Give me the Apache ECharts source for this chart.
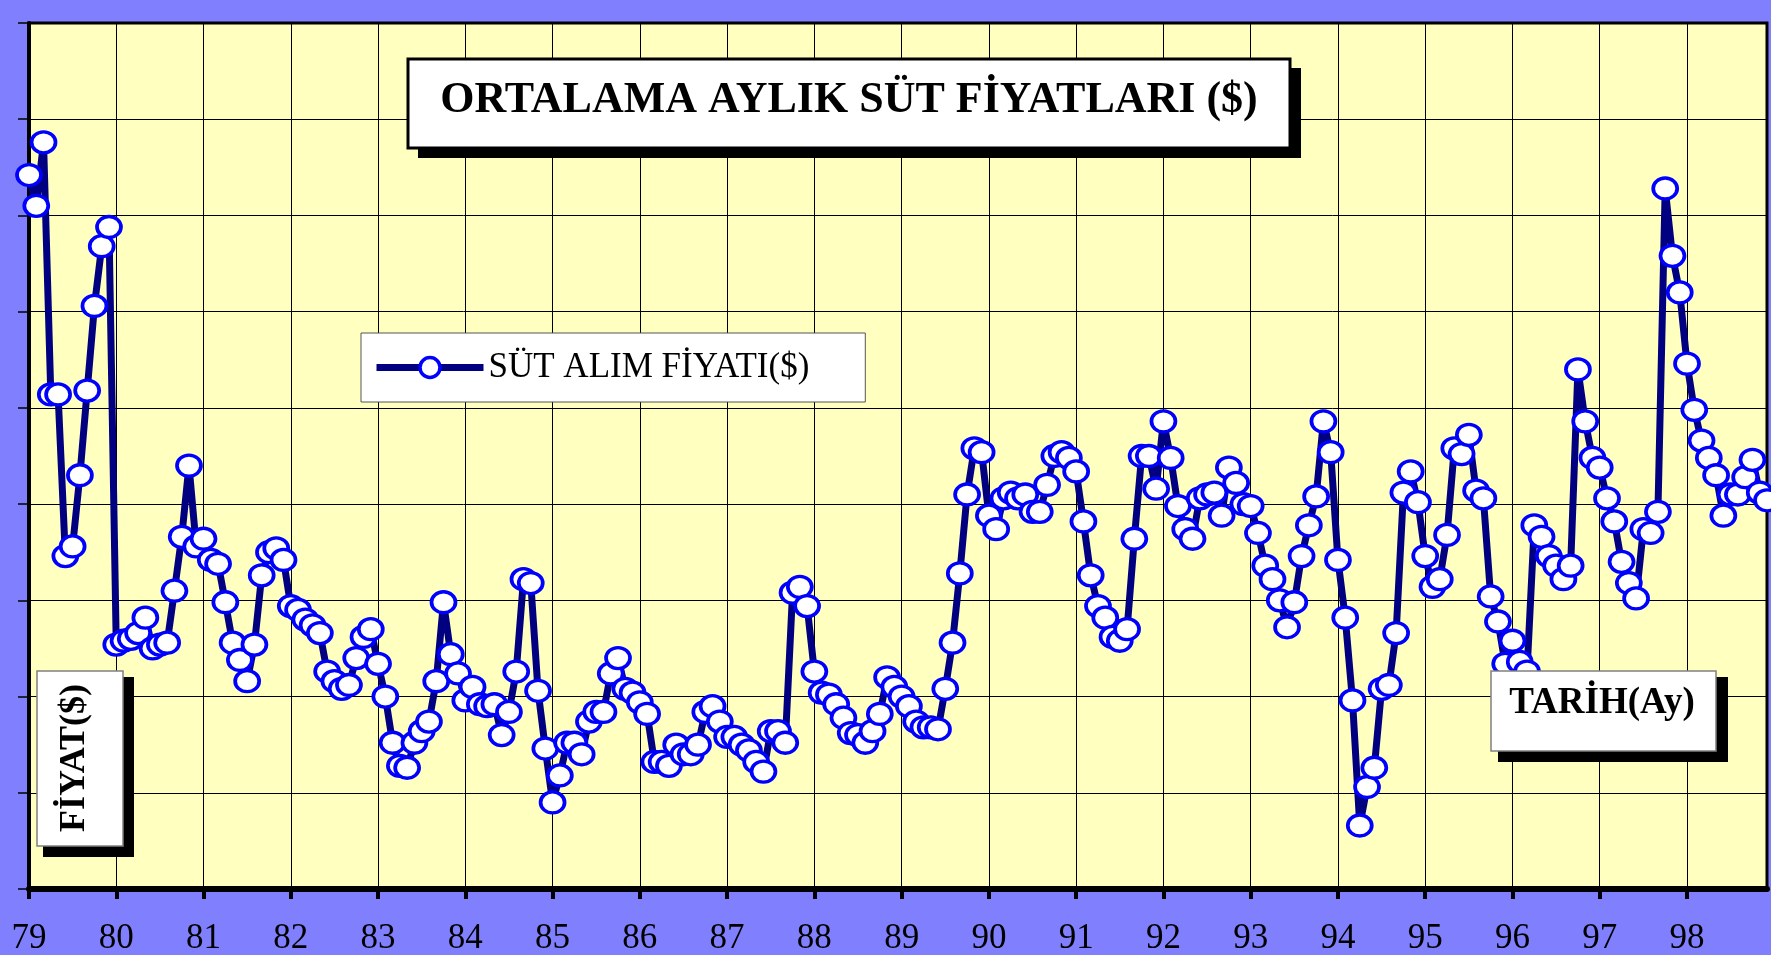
<!DOCTYPE html>
<html>
<head>
<meta charset="utf-8">
<title>Ortalama Aylık Süt Fiyatları</title>
<script src="https://cdn.jsdelivr.net/npm/echarts@6.0.0/dist/echarts.min.js"></script>
<style>
  html, body { margin: 0; padding: 0; background: #8080FF; }
  #main { width: 1771px; height: 955px; }
</style>
</head>
<body>
<div id="main"></div>
<script>
// yıllar (eksen etiketleri) ve aylar
var years = ['79', '80', '81', '82', '83', '84', '85', '86', '87', '88',
             '89', '90', '91', '92', '93', '94', '95', '96', '97', '98'];
var months = ['01', '02', '03', '04', '05', '06', '07', '08', '09', '10', '11', '12'];

// aylık süt alım fiyatı
var p1979 = [37.1, 35.5, 38.8, 25.7, 25.7, 17.3, 17.8, 21.5, 25.9, 30.3, 33.4, 34.4];
var p1980 = [12.7, 12.9, 13.0, 13.3, 14.1, 12.5, 12.7, 12.8, 15.5, 18.3, 22.0, 17.8];
var p1981 = [18.2, 17.1, 16.9, 14.9, 12.8, 11.9, 10.8, 12.7, 16.3, 17.5, 17.7, 17.1];
var p1982 = [14.7, 14.5, 14.0, 13.7, 13.3, 11.3, 10.8, 10.4, 10.6, 12.0, 13.1, 13.5];
var p1983 = [11.7, 10.0, 7.6, 6.4, 6.3, 7.6, 8.2, 8.7, 10.8, 14.9, 12.2, 11.2];
var p1984 = [9.8, 10.5, 9.6, 9.5, 9.6, 8.0, 9.2, 11.3, 16.1, 15.9, 10.3, 7.3];
var p1985 = [4.5, 5.9, 7.6, 7.6, 7.0, 8.7, 9.2, 9.2, 11.2, 12.0, 10.4, 10.2];
var p1986 = [9.7, 9.1, 6.6, 6.6, 6.4, 7.5, 7.0, 7.0, 7.5, 9.2, 9.5, 8.7];
var p1987 = [7.9, 7.9, 7.5, 7.2, 6.6, 6.1, 8.2, 8.2, 7.6, 15.4, 15.7, 14.7];
var p1988 = [11.3, 10.2, 10.1, 9.6, 8.9, 8.1, 8.0, 7.6, 8.2, 9.1, 11.0, 10.5];
var p1989 = [10.0, 9.5, 8.7, 8.4, 8.4, 8.3, 10.4, 12.8, 16.4, 20.5, 22.9, 22.7];
var p1990 = [19.4, 18.7, 20.3, 20.6, 20.3, 20.5, 19.6, 19.6, 21.0, 22.5, 22.7, 22.4];
var p1991 = [21.7, 19.1, 16.3, 14.7, 14.1, 13.1, 12.9, 13.5, 18.2, 22.5, 22.5, 20.8];
var p1992 = [24.3, 22.4, 19.9, 18.7, 18.2, 20.3, 20.5, 20.6, 19.4, 21.9, 21.1, 20.0];
var p1993 = [19.9, 18.5, 16.8, 16.1, 15.0, 13.6, 14.9, 17.3, 18.9, 20.4, 24.3, 22.7];
var p1994 = [17.1, 14.1, 9.8, 3.3, 5.3, 6.3, 10.4, 10.6, 13.3, 20.6, 21.7, 20.1];
var p1995 = [17.3, 15.7, 16.1, 18.4, 22.9, 22.6, 23.6, 20.7, 20.3, 15.2, 13.9, 11.7];
var p1996 = [12.9, 11.8, 11.3, 18.9, 18.3, 17.3, 16.8, 16.1, 16.8, 27.0, 24.3, 22.4];
var p1997 = [21.9, 20.3, 19.1, 17.0, 15.9, 15.1, 18.7, 18.5, 19.6, 36.4, 32.9, 31.0];
var p1998 = [27.3, 24.9, 23.3, 22.4, 21.5, 19.4, 20.5, 20.5, 21.4, 22.3, 20.6, 20.2];

var seriesName = 'SÜT ALIM FİYATI($)';

var categories = [];
years.forEach(function (y) {
    months.forEach(function (m) { categories.push(y + '/' + m); });
});
var prices = [].concat(p1979, p1980, p1981, p1982, p1983, p1984, p1985, p1986, p1987, p1988,
                       p1989, p1990, p1991, p1992, p1993, p1994, p1995, p1996, p1997, p1998);

var serif = '"Liberation Serif", "Times New Roman", serif';
var ellipse = 'path://M0,10A10,10,0,1,1,20,10A10,10,0,1,1,0,10Z';

var myChart = echarts.init(document.getElementById('main'), null, { renderer: 'canvas' });

var option = {
    animation: false,
    backgroundColor: '#8080FF',
    grid: {
        left: 29, right: 4, top: 23, bottom: 66,
        show: true,
        backgroundColor: '#FFFFC0',
        borderColor: '#000',
        borderWidth: 3,
        containLabel: false,
        outerBoundsMode: 'none'
    },
    legend: {
        data: [seriesName],
        left: 361, top: 333,
        orient: 'horizontal',
        padding: [17, 56, 17, 12],
        backgroundColor: '#FFFFFF',
        borderColor: '#555555',
        borderWidth: 1,
        borderRadius: 0,
        itemWidth: 107,
        itemHeight: 25,
        lineStyle: { color: '#000080', width: 7 },
        itemStyle: { color: '#FFFFFF', borderColor: '#0000FF', borderWidth: 3.5 },
        textStyle: { color: '#000', fontFamily: serif, fontSize: 35 }
    },
    xAxis: {
        type: 'category',
        data: categories,
        boundaryGap: false,
        axisLine: { show: true, lineStyle: { color: '#000', width: 6 } },
        axisTick: { show: true, interval: 11, length: 10, lineStyle: { color: '#000', width: 4 } },
        axisLabel: {
            interval: 11, margin: 32, color: '#000', fontFamily: serif, fontSize: 35,
            showMinLabel: true, hideOverlap: false,
            formatter: function (v) { return v.slice(0, 2); }
        },
        splitLine: { show: true, interval: 11, lineStyle: { color: '#000', width: 1 } }
    },
    yAxis: {
        type: 'value',
        min: 0, max: 45, interval: 5,
        axisLine: { show: true, lineStyle: { color: '#000', width: 4 } },
        axisTick: { show: true, length: 11, lineStyle: { color: '#000', width: 1.5 } },
        axisLabel: { show: false },
        splitLine: { show: true, lineStyle: { color: '#000', width: 1 } }
    },
    series: [{
        name: seriesName,
        type: 'line',
        data: prices,
        symbol: ellipse,
        symbolSize: [24, 21],
        showAllSymbol: true,
        lineStyle: { color: '#000080', width: 7 },
        itemStyle: { color: '#FFFFFF', borderColor: '#0000FF', borderWidth: 3.5 },
        emphasis: { disabled: true }
    }],
    graphic: [
        // başlık kutusu
        { type: 'rect', z: 100, shape: { x: 418, y: 68, width: 883, height: 90 }, style: { fill: '#000' } },
        { type: 'rect', z: 101, shape: { x: 408, y: 59, width: 882, height: 89 },
          style: { fill: '#FFFFFF', stroke: '#000', lineWidth: 3 } },
        { type: 'text', z: 102, x: 849, y: 101,
          style: { text: 'ORTALAMA AYLIK SÜT FİYATLARI ($)', font: 'bold 44px ' + serif, fill: '#000',
                   textAlign: 'center', textVerticalAlign: 'middle', align: 'center', verticalAlign: 'middle' } },
        // y ekseni başlığı
        { type: 'rect', z: 100, shape: { x: 43, y: 677, width: 91, height: 180 }, style: { fill: '#000' } },
        { type: 'rect', z: 101, shape: { x: 37, y: 671, width: 86, height: 175 },
          style: { fill: '#FFFFFF', stroke: '#808080', lineWidth: 1.5 } },
        { type: 'text', z: 102, x: 75, y: 758, rotation: Math.PI / 2,
          style: { text: 'FİYAT($)', font: 'bold 36px ' + serif, fill: '#000',
                   textAlign: 'center', textVerticalAlign: 'middle', align: 'center', verticalAlign: 'middle' } },
        // x ekseni başlığı
        { type: 'rect', z: 100, shape: { x: 1498, y: 677, width: 230, height: 85 }, style: { fill: '#000' } },
        { type: 'rect', z: 101, shape: { x: 1491, y: 671, width: 225, height: 80 },
          style: { fill: '#FFFFFF', stroke: '#808080', lineWidth: 1.5 } },
        { type: 'text', z: 102, x: 1602, y: 703,
          style: { text: 'TARİH(Ay)', font: 'bold 37px ' + serif, fill: '#000',
                   textAlign: 'center', textVerticalAlign: 'middle', align: 'center', verticalAlign: 'middle' } }
    ]
};

myChart.setOption(option);
</script>
</body>
</html>
